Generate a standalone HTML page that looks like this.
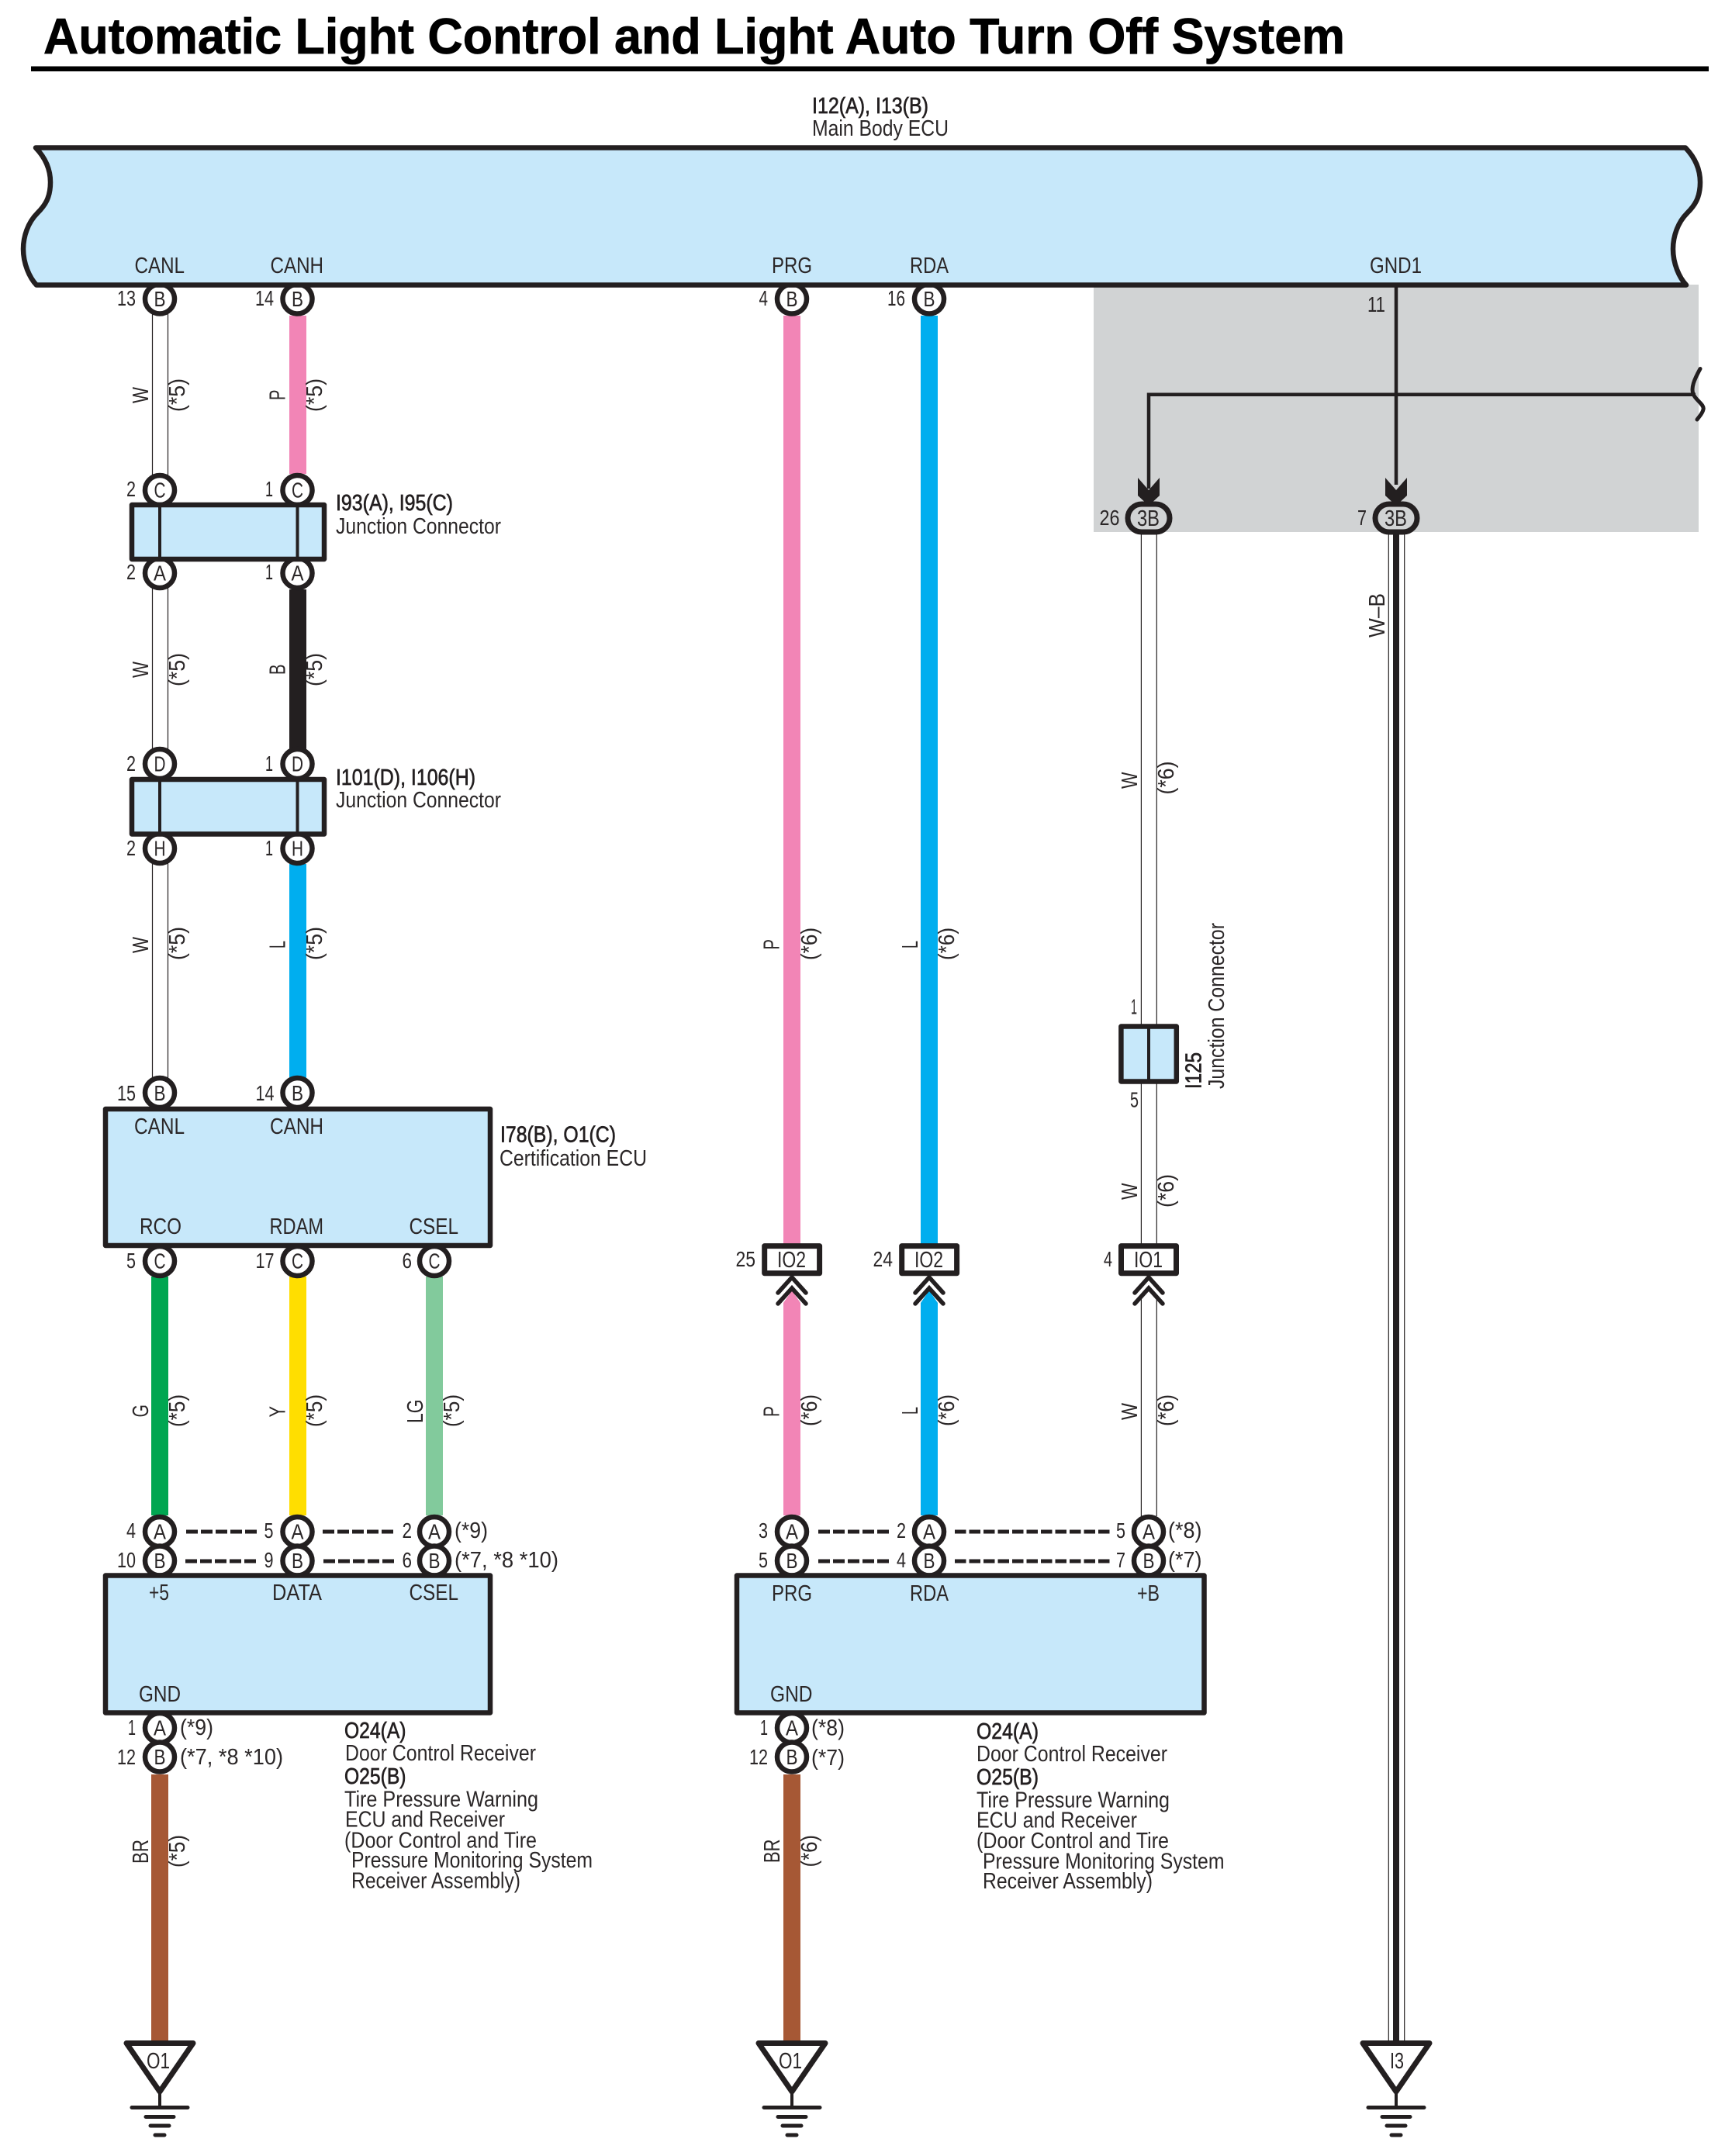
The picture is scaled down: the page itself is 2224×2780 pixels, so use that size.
<!DOCTYPE html>
<html><head><meta charset="utf-8"><title>Automatic Light Control and Light Auto Turn Off System</title>
<style>
html,body{margin:0;padding:0;background:#fff}
svg{display:block}
text{font-family:"Liberation Sans",Arial,sans-serif;font-size:29px;fill:#2b2728}
.b{fill:#231f20;stroke:#231f20;stroke-width:.7px}
.m{text-anchor:middle;font-size:28px}
.e{text-anchor:end;font-size:28px}
.pin{fill:#fff;stroke:#231f20;stroke-width:6.5}
.box{fill:#c7e8fa;stroke:#231f20;stroke-width:6.5;stroke-linejoin:round}
.k{stroke:#231f20;fill:none}
.w{stroke:#231f20;stroke-width:1.2}
.d{stroke:#231f20;stroke-width:5;stroke-dasharray:15 4;fill:none}
.dl{stroke:#231f20;stroke-width:5;stroke-dasharray:14.5 4;fill:none}
.io{fill:#fff;stroke:#231f20;stroke-width:7;stroke-linejoin:round}
.ch{fill:none;stroke:#231f20;stroke-width:5.5;stroke-linecap:round;stroke-linejoin:miter}
.g{fill:#fff;stroke:#231f20;stroke-width:7;stroke-linejoin:round}
.gl{stroke:#231f20;stroke-width:5;stroke-linecap:round}
</style></head><body>
<svg xmlns="http://www.w3.org/2000/svg" width="2224" height="2780" viewBox="0 0 2224 2780">
<rect width="2224" height="2780" fill="#fff"/>
<text x="56" y="69" style="font-size:65px;fill:#000;font-weight:bold;stroke:#000;stroke-width:.8px" textLength="1678" lengthAdjust="spacingAndGlyphs">Automatic Light Control and Light Auto Turn Off System</text>
<rect x="40" y="85.5" width="2163" height="6.5" fill="#000"/>
<text class="b" x="1047" y="146" textLength="150" lengthAdjust="spacingAndGlyphs">I12(A), I13(B)</text>
<text x="1047" y="175" textLength="176" lengthAdjust="spacingAndGlyphs">Main Body ECU</text>

<rect x="1410" y="367" width="780" height="319" fill="#d1d3d4"/>

<!-- colored wires -->
<g>
<rect x="373" y="407" width="22" height="204" fill="#f285b6"/>
<rect x="373" y="760" width="22" height="206" fill="#231f20"/>
<rect x="373" y="1114" width="22" height="276" fill="#00aeef"/>
<rect x="195" y="1646" width="22" height="308" fill="#00a651"/>
<rect x="373" y="1646" width="22" height="308" fill="#ffde00"/>
<rect x="549" y="1646" width="22" height="308" fill="#82ca9c"/>
<rect x="195" y="2288" width="22" height="346" fill="#a65835"/>
<rect x="1010" y="2288" width="22" height="346" fill="#a65835"/>
<rect x="1010" y="407" width="22" height="1197" fill="#f285b6"/>
<rect x="1187" y="407" width="22" height="1197" fill="#00aeef"/>
<path d="M1010,1954V1680L1021,1664L1032,1680V1954Z" fill="#f285b6"/>
<path d="M1187,1954V1680L1198,1664L1209,1680V1954Z" fill="#00aeef"/>
</g>
<!-- white wires -->
<g class="w">
<line x1="196.5" y1="400" x2="196.5" y2="1395"/><line x1="216.5" y1="400" x2="216.5" y2="1395"/>
<line x1="1471.4" y1="688" x2="1471.4" y2="1604"/><line x1="1491.3" y1="688" x2="1491.3" y2="1604"/>
<line x1="1471.4" y1="1672" x2="1471.4" y2="1955"/><line x1="1491.3" y1="1672" x2="1491.3" y2="1955"/>
<line x1="1790.3" y1="688" x2="1790.3" y2="2632"/><line x1="1810.7" y1="688" x2="1810.7" y2="2632"/>
</g>
<rect x="1796" y="688" width="8" height="1944" fill="#231f20"/>

<!-- GND1 lines -->
<path class="k" style="stroke-width:4.5" d="M1800,367V625M1481,630V508.7H2186"/>
<path class="k" style="stroke-width:5;stroke-linecap:round" d="M2192,475.5C2184,490 2180,500 2183,508C2186,516 2198,522 2196,528C2195,533 2191,537 2188,541"/>
<path fill="#231f20" d="M1467,616L1481,632L1495,616V639L1481,652L1467,639Z"/>
<path fill="#231f20" d="M1786,616L1800,632L1814,616V639L1800,652L1786,639Z"/>
<rect x="1454" y="650" width="54" height="36" rx="18" fill="#d1d3d4" stroke="#231f20" stroke-width="7"/>
<rect x="1773" y="650" width="54" height="36" rx="18" fill="#d1d3d4" stroke="#231f20" stroke-width="7"/>
<text x="1466" y="678" textLength="29" lengthAdjust="spacingAndGlyphs">3B</text>
<text x="1785" y="678" textLength="29" lengthAdjust="spacingAndGlyphs">3B</text>

<!-- pins -->
<g class="pin">
<circle cx="206" cy="385.5" r="19"/><circle cx="383.5" cy="385.5" r="19"/><circle cx="1021" cy="385.5" r="19"/><circle cx="1198" cy="385.5" r="19"/>
<circle cx="206" cy="632" r="19"/><circle cx="383.5" cy="632" r="19"/><circle cx="206" cy="739" r="19"/><circle cx="383.5" cy="739" r="19"/>
<circle cx="206" cy="985" r="19"/><circle cx="383.5" cy="985" r="19"/><circle cx="206" cy="1094" r="19"/><circle cx="383.5" cy="1094" r="19"/>
<circle cx="206" cy="1409" r="19"/><circle cx="383.5" cy="1409" r="19"/>
<circle cx="206" cy="1626" r="19"/><circle cx="383.5" cy="1626" r="19"/><circle cx="560" cy="1626" r="19"/>
<circle cx="206" cy="1975" r="19"/><circle cx="383.5" cy="1975" r="19"/><circle cx="560" cy="1975" r="19"/>
<circle cx="206" cy="2012.5" r="19"/><circle cx="383.5" cy="2012.5" r="19"/><circle cx="560" cy="2012.5" r="19"/>
<circle cx="1021" cy="1975" r="19"/><circle cx="1198" cy="1975" r="19"/><circle cx="1481" cy="1975" r="19"/>
<circle cx="1021" cy="2012.5" r="19"/><circle cx="1198" cy="2012.5" r="19"/><circle cx="1481" cy="2012.5" r="19"/>
<circle cx="206" cy="2228" r="19"/><circle cx="206" cy="2265.5" r="19"/>
<circle cx="1021" cy="2228" r="19"/><circle cx="1021" cy="2265.5" r="19"/>
</g>

<!-- boxes -->
<path class="box" d="M46,190.5L2173,190.5C2187,205 2192,220 2192,235C2192,255 2185,265 2175,275C2163,287 2157,305 2157,321C2157,340 2165,358 2174,367.5L47,367.5C38,358 30,340 30,321C30,305 36,287 48,275C58,265 65,255 65,235C65,220 60,205 46,190.5Z"/>
<rect class="box" x="170" y="651" width="248" height="70"/>
<rect class="box" x="170" y="1005" width="248" height="70.5"/>
<rect class="box" x="136" y="1430" width="496" height="176"/>
<rect class="box" x="136" y="2031.5" width="496" height="177"/>
<rect class="box" x="950" y="2031.5" width="602.5" height="177"/>
<rect class="box" x="1445.4" y="1323.5" width="71.4" height="71"/>
<path class="k" style="stroke-width:4" d="M206,651V721M383.5,651V721M206,1005V1075M383.5,1005V1075M1481,1323V1395"/>

<!-- IO connectors and chevrons -->
<rect x="1010" y="1646" width="22" height="16" fill="#fff"/>
<rect class="io" x="985.7" y="1606.6" width="70.9" height="35.2"/>
<rect class="io" x="1162.7" y="1606.6" width="70.9" height="35.2"/>
<rect class="io" x="1445.5" y="1606.6" width="71" height="35.2"/>
<g class="ch">
<path d="M1003,1667L1021,1647L1039,1667M1003,1681L1021,1661L1039,1681"/>
<path d="M1180,1667L1198,1647L1216,1667M1180,1681L1198,1661L1216,1681"/>
<path d="M1463,1667L1481,1647L1499,1667M1463,1681L1481,1661L1499,1681"/>
</g>
<g>
<text x="1002" y="1634" textLength="37" lengthAdjust="spacingAndGlyphs">IO2</text>
<text x="1179" y="1634" textLength="37" lengthAdjust="spacingAndGlyphs">IO2</text>
<text x="1462" y="1634" textLength="37" lengthAdjust="spacingAndGlyphs">IO1</text>
</g>

<!-- dashes -->
<path class="d" d="M240,1975H332M416,1975H508M239,2013H331M417,2013H509M1055,1975H1146M1055,2013H1146"/>
<path class="dl" d="M1231,1975H1431M1231,2013H1431"/>

<!-- ground symbols -->
<g transform="translate(206 0)"><path class="g" d="M-43,2634.5H43L0,2697Z"/><path class="k" style="stroke-width:4" d="M0,2697V2717"/><path class="gl" d="M-36,2717.5H36M-18,2729.5H18M-12,2741H12M-6,2753H6"/></g>
<g transform="translate(1021 0)"><path class="g" d="M-43,2634.5H43L0,2697Z"/><path class="k" style="stroke-width:4" d="M0,2697V2717"/><path class="gl" d="M-36,2717.5H36M-18,2729.5H18M-12,2741H12M-6,2753H6"/></g>
<g transform="translate(1800 0)"><path class="g" d="M-43,2634.5H43L0,2697Z"/><path class="k" style="stroke-width:4" d="M0,2697V2717"/><path class="gl" d="M-36,2717.5H36M-18,2729.5H18M-12,2741H12M-6,2753H6"/></g>
<text x="189" y="2667" textLength="30" lengthAdjust="spacingAndGlyphs">O1</text>
<text x="1004" y="2667" textLength="30" lengthAdjust="spacingAndGlyphs">O1</text>
<text x="1792" y="2667" textLength="18" lengthAdjust="spacingAndGlyphs">I3</text>

<!-- pin letters -->
<g>
<text class="m" x="206" y="395" textLength="15" lengthAdjust="spacingAndGlyphs">B</text><text class="m" x="383.5" y="395" textLength="15" lengthAdjust="spacingAndGlyphs">B</text><text class="m" x="1021" y="395" textLength="15" lengthAdjust="spacingAndGlyphs">B</text><text class="m" x="1198" y="395" textLength="15" lengthAdjust="spacingAndGlyphs">B</text>
<text class="m" x="206" y="641.5" textLength="15" lengthAdjust="spacingAndGlyphs">C</text><text class="m" x="383.5" y="641.5" textLength="15" lengthAdjust="spacingAndGlyphs">C</text>
<text class="m" x="206" y="748.5" textLength="16" lengthAdjust="spacingAndGlyphs">A</text><text class="m" x="383.5" y="748.5" textLength="16" lengthAdjust="spacingAndGlyphs">A</text>
<text class="m" x="206" y="994.5" textLength="15" lengthAdjust="spacingAndGlyphs">D</text><text class="m" x="383.5" y="994.5" textLength="15" lengthAdjust="spacingAndGlyphs">D</text>
<text class="m" x="206" y="1103.5" textLength="15" lengthAdjust="spacingAndGlyphs">H</text><text class="m" x="383.5" y="1103.5" textLength="15" lengthAdjust="spacingAndGlyphs">H</text>
<text class="m" x="206" y="1419" textLength="15" lengthAdjust="spacingAndGlyphs">B</text><text class="m" x="383.5" y="1419" textLength="15" lengthAdjust="spacingAndGlyphs">B</text>
<text class="m" x="206" y="1635.5" textLength="15" lengthAdjust="spacingAndGlyphs">C</text><text class="m" x="383.5" y="1635.5" textLength="15" lengthAdjust="spacingAndGlyphs">C</text><text class="m" x="560" y="1635.5" textLength="15" lengthAdjust="spacingAndGlyphs">C</text>
<text class="m" x="206" y="1984.5" textLength="16" lengthAdjust="spacingAndGlyphs">A</text><text class="m" x="383.5" y="1984.5" textLength="16" lengthAdjust="spacingAndGlyphs">A</text><text class="m" x="560" y="1984.5" textLength="16" lengthAdjust="spacingAndGlyphs">A</text>
<text class="m" x="206" y="2022" textLength="15" lengthAdjust="spacingAndGlyphs">B</text><text class="m" x="383.5" y="2022" textLength="15" lengthAdjust="spacingAndGlyphs">B</text><text class="m" x="560" y="2022" textLength="15" lengthAdjust="spacingAndGlyphs">B</text>
<text class="m" x="1021" y="1984.5" textLength="16" lengthAdjust="spacingAndGlyphs">A</text><text class="m" x="1198" y="1984.5" textLength="16" lengthAdjust="spacingAndGlyphs">A</text><text class="m" x="1481" y="1984.5" textLength="16" lengthAdjust="spacingAndGlyphs">A</text>
<text class="m" x="1021" y="2022" textLength="15" lengthAdjust="spacingAndGlyphs">B</text><text class="m" x="1198" y="2022" textLength="15" lengthAdjust="spacingAndGlyphs">B</text><text class="m" x="1481" y="2022" textLength="15" lengthAdjust="spacingAndGlyphs">B</text>
<text class="m" x="206" y="2237.5" textLength="16" lengthAdjust="spacingAndGlyphs">A</text><text class="m" x="206" y="2275" textLength="15" lengthAdjust="spacingAndGlyphs">B</text>
<text class="m" x="1021" y="2237.5" textLength="16" lengthAdjust="spacingAndGlyphs">A</text><text class="m" x="1021" y="2275" textLength="15" lengthAdjust="spacingAndGlyphs">B</text>
</g>

<!-- pin numbers -->
<g>
<text class="e" x="175" y="394" textLength="24" lengthAdjust="spacingAndGlyphs">13</text><text class="e" x="353" y="394" textLength="24" lengthAdjust="spacingAndGlyphs">14</text><text class="e" x="990" y="394" textLength="11.5" lengthAdjust="spacingAndGlyphs">4</text><text class="e" x="1167" y="394" textLength="23" lengthAdjust="spacingAndGlyphs">16</text>
<text class="e" x="175" y="640" textLength="12" lengthAdjust="spacingAndGlyphs">2</text><text class="e" x="352" y="640" textLength="10" lengthAdjust="spacingAndGlyphs">1</text>
<text class="e" x="175" y="747" textLength="12" lengthAdjust="spacingAndGlyphs">2</text><text class="e" x="352" y="747" textLength="10" lengthAdjust="spacingAndGlyphs">1</text>
<text class="e" x="175" y="994" textLength="12" lengthAdjust="spacingAndGlyphs">2</text><text class="e" x="352" y="994" textLength="10" lengthAdjust="spacingAndGlyphs">1</text>
<text class="e" x="175" y="1103" textLength="12" lengthAdjust="spacingAndGlyphs">2</text><text class="e" x="352" y="1103" textLength="10" lengthAdjust="spacingAndGlyphs">1</text>
<text class="e" x="175" y="1419" textLength="24" lengthAdjust="spacingAndGlyphs">15</text><text class="e" x="353.5" y="1419" textLength="24" lengthAdjust="spacingAndGlyphs">14</text>
<text class="e" x="175" y="1635" textLength="12" lengthAdjust="spacingAndGlyphs">5</text><text class="e" x="353.5" y="1635" textLength="24" lengthAdjust="spacingAndGlyphs">17</text><text class="e" x="531" y="1635" textLength="12.5" lengthAdjust="spacingAndGlyphs">6</text>
<text class="e" x="175" y="1983" textLength="12" lengthAdjust="spacingAndGlyphs">4</text><text class="e" x="352.5" y="1983" textLength="12" lengthAdjust="spacingAndGlyphs">5</text><text class="e" x="531" y="1983" textLength="12.5" lengthAdjust="spacingAndGlyphs">2</text>
<text class="e" x="175" y="2021" textLength="24" lengthAdjust="spacingAndGlyphs">10</text><text class="e" x="352.5" y="2021" textLength="12" lengthAdjust="spacingAndGlyphs">9</text><text class="e" x="531" y="2021" textLength="12.5" lengthAdjust="spacingAndGlyphs">6</text>
<text class="e" x="990" y="1983" textLength="12" lengthAdjust="spacingAndGlyphs">3</text><text class="e" x="1168" y="1983" textLength="12" lengthAdjust="spacingAndGlyphs">2</text><text class="e" x="1451" y="1983" textLength="12" lengthAdjust="spacingAndGlyphs">5</text>
<text class="e" x="990" y="2021" textLength="12" lengthAdjust="spacingAndGlyphs">5</text><text class="e" x="1168" y="2021" textLength="12" lengthAdjust="spacingAndGlyphs">4</text><text class="e" x="1451" y="2021" textLength="12" lengthAdjust="spacingAndGlyphs">7</text>
<text class="e" x="175" y="2237" textLength="10" lengthAdjust="spacingAndGlyphs">1</text><text class="e" x="175" y="2275" textLength="24" lengthAdjust="spacingAndGlyphs">12</text>
<text class="e" x="990" y="2237" textLength="10" lengthAdjust="spacingAndGlyphs">1</text><text class="e" x="990" y="2275" textLength="24" lengthAdjust="spacingAndGlyphs">12</text>
<text class="e" x="974" y="1633" textLength="25.5" lengthAdjust="spacingAndGlyphs">25</text><text class="e" x="1151" y="1633" textLength="25.5" lengthAdjust="spacingAndGlyphs">24</text><text class="e" x="1434" y="1633" textLength="11" lengthAdjust="spacingAndGlyphs">4</text>
<text class="e" x="1786" y="402" textLength="23" lengthAdjust="spacingAndGlyphs">11</text>
<text class="e" x="1443.5" y="677" textLength="26" lengthAdjust="spacingAndGlyphs">26</text><text class="e" x="1762" y="677" textLength="12" lengthAdjust="spacingAndGlyphs">7</text>
<text class="e" x="1466" y="1307.5" textLength="8" lengthAdjust="spacingAndGlyphs">1</text><text class="e" x="1468" y="1427.5" textLength="11" lengthAdjust="spacingAndGlyphs">5</text>
</g>

<!-- box terminal labels -->
<g>
<text x="173.5" y="352" textLength="64.5" lengthAdjust="spacingAndGlyphs">CANL</text>
<text x="348.5" y="352" textLength="68.5" lengthAdjust="spacingAndGlyphs">CANH</text>
<text x="995" y="352" textLength="52" lengthAdjust="spacingAndGlyphs">PRG</text>
<text x="1173" y="352" textLength="50" lengthAdjust="spacingAndGlyphs">RDA</text>
<text x="1766" y="352" textLength="67" lengthAdjust="spacingAndGlyphs">GND1</text>
<text x="173" y="1462" textLength="65" lengthAdjust="spacingAndGlyphs">CANL</text>
<text x="348" y="1462" textLength="69" lengthAdjust="spacingAndGlyphs">CANH</text>
<text x="180" y="1591" textLength="54" lengthAdjust="spacingAndGlyphs">RCO</text>
<text x="347.5" y="1591" textLength="69.5" lengthAdjust="spacingAndGlyphs">RDAM</text>
<text x="527.5" y="1591" textLength="63.5" lengthAdjust="spacingAndGlyphs">CSEL</text>
<text x="192" y="2063" textLength="26" lengthAdjust="spacingAndGlyphs">+5</text>
<text x="351" y="2063" textLength="64" lengthAdjust="spacingAndGlyphs">DATA</text>
<text x="527.5" y="2063" textLength="63.5" lengthAdjust="spacingAndGlyphs">CSEL</text>
<text x="179" y="2194" textLength="54" lengthAdjust="spacingAndGlyphs">GND</text>
<text x="995" y="2064" textLength="52" lengthAdjust="spacingAndGlyphs">PRG</text>
<text x="1173" y="2064" textLength="50" lengthAdjust="spacingAndGlyphs">RDA</text>
<text x="1466" y="2064" textLength="29" lengthAdjust="spacingAndGlyphs">+B</text>
<text x="993" y="2194" textLength="54.5" lengthAdjust="spacingAndGlyphs">GND</text>
</g>

<!-- component labels -->
<g>
<text class="b" x="433" y="658" textLength="151" lengthAdjust="spacingAndGlyphs">I93(A), I95(C)</text>
<text x="433" y="688" textLength="213" lengthAdjust="spacingAndGlyphs">Junction Connector</text>
<text class="b" x="433" y="1012" textLength="180" lengthAdjust="spacingAndGlyphs">I101(D), I106(H)</text>
<text x="433" y="1041" textLength="213" lengthAdjust="spacingAndGlyphs">Junction Connector</text>
<text class="b" x="645" y="1472.5" textLength="149" lengthAdjust="spacingAndGlyphs">I78(B), O1(C)</text>
<text x="644" y="1503" textLength="190" lengthAdjust="spacingAndGlyphs">Certification ECU</text>

<text class="b" x="444" y="2241" textLength="79.5" lengthAdjust="spacingAndGlyphs">O24(A)</text>
<text x="445" y="2270" textLength="246" lengthAdjust="spacingAndGlyphs">Door Control Receiver</text>
<text class="b" x="444" y="2300" textLength="79.5" lengthAdjust="spacingAndGlyphs">O25(B)</text>
<text x="444" y="2329.5" textLength="250" lengthAdjust="spacingAndGlyphs">Tire Pressure Warning</text>
<text x="445" y="2355.5" textLength="206" lengthAdjust="spacingAndGlyphs">ECU and Receiver</text>
<text x="444" y="2382.5" textLength="248" lengthAdjust="spacingAndGlyphs">(Door Control and Tire</text>
<text x="453" y="2408" textLength="311" lengthAdjust="spacingAndGlyphs">Pressure Monitoring System</text>
<text x="453" y="2434.5" textLength="218" lengthAdjust="spacingAndGlyphs">Receiver Assembly)</text>

<text class="b" x="1259" y="2242" textLength="80" lengthAdjust="spacingAndGlyphs">O24(A)</text>
<text x="1259" y="2271" textLength="246" lengthAdjust="spacingAndGlyphs">Door Control Receiver</text>
<text class="b" x="1259" y="2301" textLength="80" lengthAdjust="spacingAndGlyphs">O25(B)</text>
<text x="1259" y="2330.5" textLength="249" lengthAdjust="spacingAndGlyphs">Tire Pressure Warning</text>
<text x="1259" y="2356.5" textLength="207" lengthAdjust="spacingAndGlyphs">ECU and Receiver</text>
<text x="1259" y="2383" textLength="248" lengthAdjust="spacingAndGlyphs">(Door Control and Tire</text>
<text x="1267" y="2409.5" textLength="311.5" lengthAdjust="spacingAndGlyphs">Pressure Monitoring System</text>
<text x="1267" y="2435" textLength="219" lengthAdjust="spacingAndGlyphs">Receiver Assembly)</text>

<text x="586" y="1983" textLength="43" lengthAdjust="spacingAndGlyphs">(*9)</text>
<text x="586" y="2021" textLength="134" lengthAdjust="spacingAndGlyphs">(*7, *8 *10)</text>
<text x="232" y="2237" textLength="43" lengthAdjust="spacingAndGlyphs">(*9)</text>
<text x="232" y="2275" textLength="133" lengthAdjust="spacingAndGlyphs">(*7, *8 *10)</text>
<text x="1506" y="1983" textLength="43.5" lengthAdjust="spacingAndGlyphs">(*8)</text>
<text x="1506" y="2021" textLength="43.5" lengthAdjust="spacingAndGlyphs">(*7)</text>
<text x="1046" y="2237.5" textLength="43" lengthAdjust="spacingAndGlyphs">(*8)</text>
<text x="1046" y="2276" textLength="43" lengthAdjust="spacingAndGlyphs">(*7)</text>
</g>

<!-- rotated wire labels -->
<g>
<text transform="rotate(-90 191 520)" x="191" y="520" textLength="21" lengthAdjust="spacingAndGlyphs">W</text>
<text transform="rotate(-90 238 531)" x="238" y="531" textLength="43" lengthAdjust="spacingAndGlyphs">(*5)</text>
<text transform="rotate(-90 367.5 516)" x="367.5" y="516" textLength="13.5" lengthAdjust="spacingAndGlyphs">P</text>
<text transform="rotate(-90 415 531)" x="415" y="531" textLength="43" lengthAdjust="spacingAndGlyphs">(*5)</text>

<text transform="rotate(-90 191 874)" x="191" y="874" textLength="21" lengthAdjust="spacingAndGlyphs">W</text>
<text transform="rotate(-90 238 885)" x="238" y="885" textLength="43" lengthAdjust="spacingAndGlyphs">(*5)</text>
<text transform="rotate(-90 367.5 870)" x="367.5" y="870" textLength="13.5" lengthAdjust="spacingAndGlyphs">B</text>
<text transform="rotate(-90 415 885)" x="415" y="885" textLength="43" lengthAdjust="spacingAndGlyphs">(*5)</text>

<text transform="rotate(-90 191 1229)" x="191" y="1229" textLength="21" lengthAdjust="spacingAndGlyphs">W</text>
<text transform="rotate(-90 238 1238)" x="238" y="1238" textLength="43" lengthAdjust="spacingAndGlyphs">(*5)</text>
<text transform="rotate(-90 367.5 1223)" x="367.5" y="1223" textLength="10" lengthAdjust="spacingAndGlyphs">L</text>
<text transform="rotate(-90 415 1238)" x="415" y="1238" textLength="43" lengthAdjust="spacingAndGlyphs">(*5)</text>

<text transform="rotate(-90 191 1827.5)" x="191" y="1827.5" textLength="16.5" lengthAdjust="spacingAndGlyphs">G</text>
<text transform="rotate(-90 238 1840)" x="238" y="1840" textLength="42" lengthAdjust="spacingAndGlyphs">(*5)</text>
<text transform="rotate(-90 367.5 1827.5)" x="367.5" y="1827.5" textLength="14.5" lengthAdjust="spacingAndGlyphs">Y</text>
<text transform="rotate(-90 415 1840)" x="415" y="1840" textLength="42" lengthAdjust="spacingAndGlyphs">(*5)</text>
<text transform="rotate(-90 545 1835)" x="545" y="1835" textLength="30.5" lengthAdjust="spacingAndGlyphs">LG</text>
<text transform="rotate(-90 592 1840)" x="592" y="1840" textLength="42" lengthAdjust="spacingAndGlyphs">(*5)</text>

<text transform="rotate(-90 191 2403)" x="191" y="2403" textLength="31" lengthAdjust="spacingAndGlyphs">BR</text>
<text transform="rotate(-90 238 2408)" x="238" y="2408" textLength="42" lengthAdjust="spacingAndGlyphs">(*5)</text>
<text transform="rotate(-90 1005 2402)" x="1005" y="2402" textLength="30.5" lengthAdjust="spacingAndGlyphs">BR</text>
<text transform="rotate(-90 1053 2407.5)" x="1053" y="2407.5" textLength="41.5" lengthAdjust="spacingAndGlyphs">(*6)</text>

<text transform="rotate(-90 1004.5 1224.5)" x="1004.5" y="1224.5" textLength="13.5" lengthAdjust="spacingAndGlyphs">P</text>
<text transform="rotate(-90 1053 1238)" x="1053" y="1238" textLength="42" lengthAdjust="spacingAndGlyphs">(*6)</text>
<text transform="rotate(-90 1183 1223)" x="1183" y="1223" textLength="10" lengthAdjust="spacingAndGlyphs">L</text>
<text transform="rotate(-90 1230 1238)" x="1230" y="1238" textLength="42" lengthAdjust="spacingAndGlyphs">(*6)</text>

<text transform="rotate(-90 1004.5 1827)" x="1004.5" y="1827" textLength="14" lengthAdjust="spacingAndGlyphs">P</text>
<text transform="rotate(-90 1053 1839)" x="1053" y="1839" textLength="41" lengthAdjust="spacingAndGlyphs">(*6)</text>
<text transform="rotate(-90 1183 1824)" x="1183" y="1824" textLength="10" lengthAdjust="spacingAndGlyphs">L</text>
<text transform="rotate(-90 1230 1839)" x="1230" y="1839" textLength="41" lengthAdjust="spacingAndGlyphs">(*6)</text>
<text transform="rotate(-90 1466 1831)" x="1466" y="1831" textLength="22" lengthAdjust="spacingAndGlyphs">W</text>
<text transform="rotate(-90 1513 1839)" x="1513" y="1839" textLength="41" lengthAdjust="spacingAndGlyphs">(*6)</text>

<text transform="rotate(-90 1466 1547)" x="1466" y="1547" textLength="21.5" lengthAdjust="spacingAndGlyphs">W</text>
<text transform="rotate(-90 1513 1557)" x="1513" y="1557" textLength="43" lengthAdjust="spacingAndGlyphs">(*6)</text>
<text transform="rotate(-90 1466 1017)" x="1466" y="1017" textLength="21.5" lengthAdjust="spacingAndGlyphs">W</text>
<text transform="rotate(-90 1513 1024.5)" x="1513" y="1024.5" textLength="43" lengthAdjust="spacingAndGlyphs">(*6)</text>

<text class="b" transform="rotate(-90 1548.5 1404)" x="1548.5" y="1404" textLength="47" lengthAdjust="spacingAndGlyphs">I125</text>
<text transform="rotate(-90 1578 1404)" x="1578" y="1404" textLength="214" lengthAdjust="spacingAndGlyphs">Junction Connector</text>
<text transform="rotate(-90 1785 822)" x="1785" y="822" textLength="57" lengthAdjust="spacingAndGlyphs">W–B</text>
</g>
</svg>
</body></html>
